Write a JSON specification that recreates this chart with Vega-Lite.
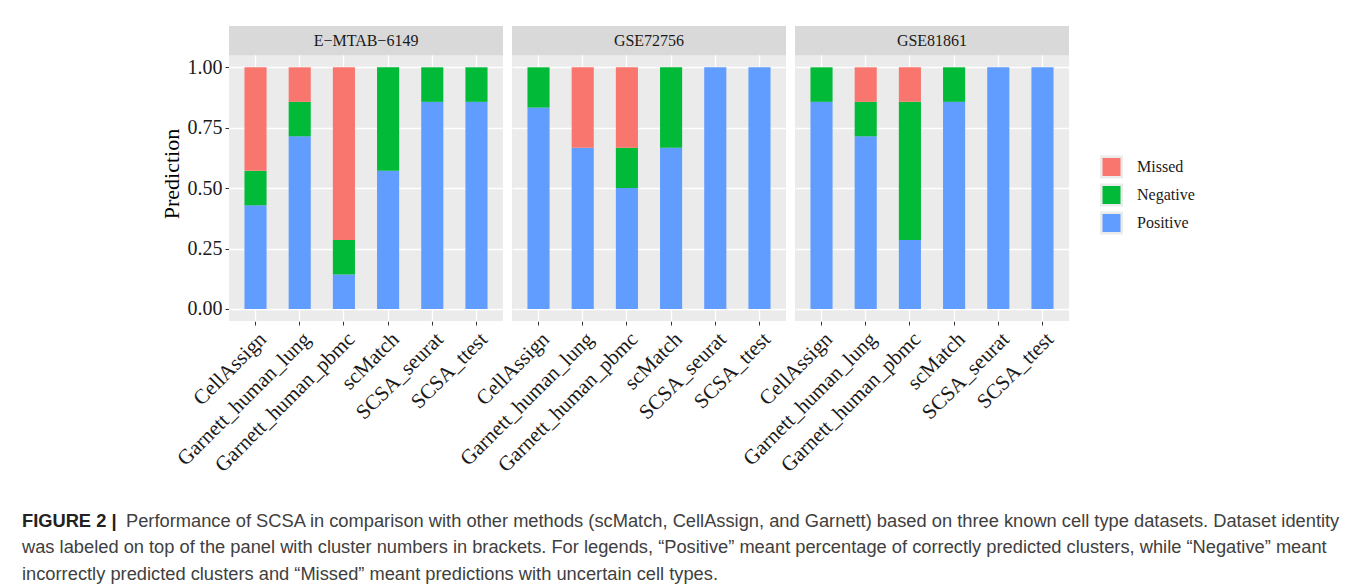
{
  "$schema": "https://vega.github.io/schema/vega-lite/v6.json",
  "background": "white",
  "padding": {"left": 22, "top": 26, "right": 10, "bottom": 5},
  "data": {
    "values": [
      {"dataset": "E−MTAB−6149", "method": "CellAssign", "status": "Positive", "prediction": 0.4286},
      {"dataset": "E−MTAB−6149", "method": "CellAssign", "status": "Negative", "prediction": 0.1428},
      {"dataset": "E−MTAB−6149", "method": "CellAssign", "status": "Missed", "prediction": 0.4286},
      {"dataset": "E−MTAB−6149", "method": "Garnett_human_lung", "status": "Positive", "prediction": 0.7143},
      {"dataset": "E−MTAB−6149", "method": "Garnett_human_lung", "status": "Negative", "prediction": 0.1429},
      {"dataset": "E−MTAB−6149", "method": "Garnett_human_lung", "status": "Missed", "prediction": 0.1428},
      {"dataset": "E−MTAB−6149", "method": "Garnett_human_pbmc", "status": "Positive", "prediction": 0.1429},
      {"dataset": "E−MTAB−6149", "method": "Garnett_human_pbmc", "status": "Negative", "prediction": 0.1428},
      {"dataset": "E−MTAB−6149", "method": "Garnett_human_pbmc", "status": "Missed", "prediction": 0.7143},
      {"dataset": "E−MTAB−6149", "method": "scMatch", "status": "Positive", "prediction": 0.5714},
      {"dataset": "E−MTAB−6149", "method": "scMatch", "status": "Negative", "prediction": 0.4286},
      {"dataset": "E−MTAB−6149", "method": "SCSA_seurat", "status": "Positive", "prediction": 0.8571},
      {"dataset": "E−MTAB−6149", "method": "SCSA_seurat", "status": "Negative", "prediction": 0.1429},
      {"dataset": "E−MTAB−6149", "method": "SCSA_ttest", "status": "Positive", "prediction": 0.8571},
      {"dataset": "E−MTAB−6149", "method": "SCSA_ttest", "status": "Negative", "prediction": 0.1429},
      {"dataset": "GSE72756", "method": "CellAssign", "status": "Positive", "prediction": 0.8333},
      {"dataset": "GSE72756", "method": "CellAssign", "status": "Negative", "prediction": 0.1667},
      {"dataset": "GSE72756", "method": "Garnett_human_lung", "status": "Positive", "prediction": 0.6667},
      {"dataset": "GSE72756", "method": "Garnett_human_lung", "status": "Missed", "prediction": 0.3333},
      {"dataset": "GSE72756", "method": "Garnett_human_pbmc", "status": "Positive", "prediction": 0.5},
      {"dataset": "GSE72756", "method": "Garnett_human_pbmc", "status": "Negative", "prediction": 0.1667},
      {"dataset": "GSE72756", "method": "Garnett_human_pbmc", "status": "Missed", "prediction": 0.3333},
      {"dataset": "GSE72756", "method": "scMatch", "status": "Positive", "prediction": 0.6667},
      {"dataset": "GSE72756", "method": "scMatch", "status": "Negative", "prediction": 0.3333},
      {"dataset": "GSE72756", "method": "SCSA_seurat", "status": "Positive", "prediction": 1},
      {"dataset": "GSE72756", "method": "SCSA_ttest", "status": "Positive", "prediction": 1},
      {"dataset": "GSE81861", "method": "CellAssign", "status": "Positive", "prediction": 0.8571},
      {"dataset": "GSE81861", "method": "CellAssign", "status": "Negative", "prediction": 0.1429},
      {"dataset": "GSE81861", "method": "Garnett_human_lung", "status": "Positive", "prediction": 0.7143},
      {"dataset": "GSE81861", "method": "Garnett_human_lung", "status": "Negative", "prediction": 0.1429},
      {"dataset": "GSE81861", "method": "Garnett_human_lung", "status": "Missed", "prediction": 0.1428},
      {"dataset": "GSE81861", "method": "Garnett_human_pbmc", "status": "Positive", "prediction": 0.2857},
      {"dataset": "GSE81861", "method": "Garnett_human_pbmc", "status": "Negative", "prediction": 0.5714},
      {"dataset": "GSE81861", "method": "Garnett_human_pbmc", "status": "Missed", "prediction": 0.1429},
      {"dataset": "GSE81861", "method": "scMatch", "status": "Positive", "prediction": 0.8571},
      {"dataset": "GSE81861", "method": "scMatch", "status": "Negative", "prediction": 0.1429},
      {"dataset": "GSE81861", "method": "SCSA_seurat", "status": "Positive", "prediction": 1},
      {"dataset": "GSE81861", "method": "SCSA_ttest", "status": "Positive", "prediction": 1}
    ]
  },
  "facet": {"column": {"field": "dataset", "type": "nominal", "header": null}},
  "spacing": 9,
  "spec": {
    "width": 274,
    "height": 295,
    "layer": [
      {
        "mark": {"type": "bar"},
        "encoding": {
          "x": {
            "field": "method", "type": "nominal",
            "sort": ["CellAssign", "Garnett_human_lung", "Garnett_human_pbmc", "scMatch", "SCSA_seurat", "SCSA_ttest"],
            "scale": {"paddingInner": 0.5, "paddingOuter": 0.35},
            "axis": {"title": null, "labelAngle": -45, "labelFontSize": 21, "labelLimit": 400, "labelPadding": 3, "tickSize": 4, "grid": true, "gridWidth": 1.3, "bandPosition": 0.5}
          },
          "y": {
            "field": "prediction", "type": "quantitative", "stack": "zero",
            "scale": {"domain": [-0.05, 1.171], "nice": false, "zero": false},
            "axis": {
              "title": "Prediction",
              "titleFontSize": 22, "titleFontWeight": "normal", "titlePadding": 4,
              "values": [0, 0.125, 0.25, 0.375, 0.5, 0.625, 0.75, 0.875, 1],
              "labelExpr": "datum.value % 0.25 == 0 ? format(datum.value, '.2f') : ''",
              "labelFontSize": 20, "labelPadding": 3, "tickSize": 4,
              "tickOpacity": {"condition": {"test": "datum.value % 0.25 != 0", "value": 0}, "value": 1},
              "gridWidth": {"condition": {"test": "datum.value % 0.25 != 0", "value": 0.6}, "value": 1.3}
            }
          },
          "color": {
            "field": "status", "type": "nominal",
            "scale": {"domain": ["Missed", "Negative", "Positive"], "range": ["#F8766D", "#00BA38", "#619CFF"]},
            "legend": {"title": null, "orient": "none", "legendX": 871, "legendY": 127}
          },
          "order": {"field": "status", "sort": "descending"}
        }
      },
      {
        "transform": [{"aggregate": [{"op": "count", "as": "n"}], "groupby": ["dataset"]}],
        "mark": {"type": "rect", "color": "#D9D9D9"},
        "encoding": {
          "y": {"datum": 1.05, "type": "quantitative"},
          "y2": {"datum": 1.171}
        }
      },
      {
        "transform": [{"aggregate": [{"op": "count", "as": "n"}], "groupby": ["dataset"]}],
        "mark": {"type": "text", "font": "Liberation Serif", "fontSize": 16, "color": "#1A1A1A", "baseline": "middle", "align": "center"},
        "encoding": {
          "y": {"datum": 1.11, "type": "quantitative"},
          "text": {"field": "dataset", "type": "nominal"}
        }
      }
    ]
  },
  "title": {
    "text": "FIGURE 2 |",
    "subtitle": [
      "\u2800\u2800\u2800\u2800\u2800\u2800\u2800\u2800Performance of SCSA in comparison with other methods (scMatch, CellAssign, and Garnett) based on three known cell type datasets. Dataset identity",
      "was labeled on top of the panel with cluster numbers in brackets. For legends, “Positive” meant percentage of correctly predicted clusters, while “Negative” meant",
      "incorrectly predicted clusters and “Missed” meant predictions with uncertain cell types."
    ],
    "orient": "bottom", "anchor": "start", "frame": "bounds",
    "font": "Liberation Sans", "fontSize": 18.3, "fontWeight": "bold", "color": "#222222",
    "subtitleFont": "Liberation Sans", "subtitleFontSize": 18.3, "subtitleFontWeight": "normal", "subtitleColor": "#404040",
    "subtitleLineHeight": 26.5, "subtitlePadding": -18.3,
    "offset": 37, "dx": -138
  },
  "config": {
    "view": {"fill": "#EBEBEB", "stroke": null},
    "font": "Liberation Serif",
    "axis": {
      "labelFont": "Liberation Serif", "titleFont": "Liberation Serif",
      "labelColor": "#1A1A1A", "titleColor": "#000000",
      "tickColor": "#333333", "domain": false, "gridColor": "#FFFFFF"
    },
    "legend": {
      "labelFont": "Liberation Serif", "labelFontSize": 16, "labelColor": "#1A1A1A",
      "symbolType": "square", "symbolSize": 420, "symbolStrokeColor": "#EBEBEB", "symbolStrokeWidth": 2.5,
      "symbolOpacity": 1, "rowPadding": 0, "clipHeight": 28, "labelOffset": 14
    }
  }
}
